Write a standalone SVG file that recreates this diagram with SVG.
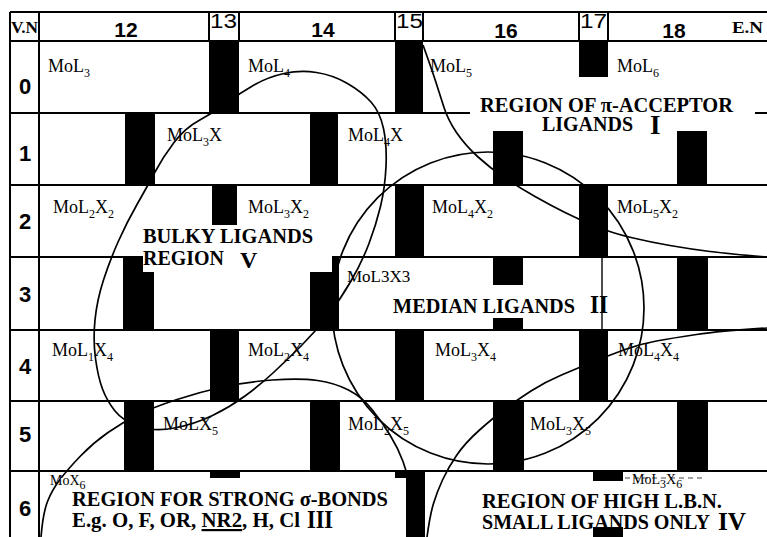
<svg xmlns="http://www.w3.org/2000/svg" width="767" height="537" viewBox="0 0 767 537">
<style>
.g{stroke:#000;stroke-width:2;fill:none}
.c{stroke:#000;stroke-width:1.7;fill:none}
.b rect{fill:#000}
.w rect{fill:#fff}
.lab{font-family:"Liberation Serif","Times New Roman",serif;font-size:18px;fill:#000}
.l17{font-size:17px}
.l15{font-size:14px}
.s{font-size:12px}
.reg{font-family:"Liberation Serif","Times New Roman",serif;font-weight:bold;font-size:22px;fill:#000}
.hd{font-family:"Liberation Sans",Arial,sans-serif;font-weight:bold;font-size:21px;fill:#000;text-anchor:middle}
.hn{font-family:"Liberation Sans",Arial,sans-serif;font-size:20px;fill:#000}
.rw{font-family:"Liberation Sans",Arial,sans-serif;font-weight:bold;font-size:22px;fill:#000;text-anchor:middle}
.vn{font-family:"Liberation Serif","Times New Roman",serif;font-weight:bold;font-size:16px;fill:#000}
</style>
<rect x="0" y="0" width="767" height="537" fill="#fff"/>
<g id="grid">
<path class="g" d="M10,12H767 M10,41H767 M10,113H767 M10,185H767 M10,257H767 M10,330H767 M10,401H767 M10,471H767 M10,12V537 M39,12V537 M209,12V41 M239,12V41 M395,12V41 M423,12V41 M579,12V41 M608,12V41"/>
</g>
<g id="bars" class="b">
<rect x="209" y="41" width="30" height="72"/><rect x="395" y="41" width="28" height="72"/><rect x="579" y="41" width="29" height="36"/>
<rect x="125" y="113" width="30" height="72"/><rect x="310" y="113" width="28" height="72"/><rect x="493" y="113" width="30" height="72"/><rect x="677" y="113" width="30" height="72"/>
<rect x="212" y="185" width="25" height="72"/><rect x="395" y="185" width="29" height="72"/><rect x="579" y="185" width="29" height="72"/>
<rect x="123" y="257" width="31" height="73"/><rect x="310" y="257" width="29" height="73"/><rect x="493" y="257" width="30" height="73"/><rect x="677" y="257" width="31" height="73"/>
<rect x="210" y="330" width="29" height="71"/><rect x="395" y="330" width="29" height="71"/><rect x="579" y="330" width="29" height="71"/>
<rect x="124" y="401" width="30" height="70"/><rect x="310" y="401" width="30" height="70"/><rect x="493" y="401" width="31" height="70"/><rect x="677" y="401" width="31" height="70"/>
<rect x="210" y="471" width="30" height="66"/><rect x="395" y="471" width="30" height="66"/><rect x="593" y="471" width="30" height="66"/>
</g>
<g id="connectors">
<path id="regionV" class="c" d="M254,85 Q268,77 284,73.5 Q300,70 316.5,72.5 Q333,75 347.5,83.5 Q362,92 371,102 Q380,112 383.5,128.5 Q387,145 386,166.5 Q385,188 380.5,206.5 Q376,225 369,243.5 Q362,262 351,281 Q340,300 327.5,316 Q315,332 301,346 Q287,360 273.5,372.5 Q260,385 245,396 Q230,407 212.5,415.5 Q195,424 174.5,428 Q154,432 138.5,426.5 Q123,421 115,411 Q107,401 102.5,389 Q98,377 95.5,358.5 Q93,340 95,320 Q97,300 103.5,280 Q110,260 118.5,241 Q127,222 137,204.5 Q147,187 155,172 Q163,157 174,142.5 Q185,128 199,120.5 Q213,113 226.5,103 Q240,93 254,85 Z"/>
<circle id="regionII" class="c" cx="488" cy="308" r="156"/>
<path id="regionIII" class="c" d="M41,537 Q43,513 47.5,501.5 Q52,490 60,479.5 Q68,469 80.5,456 Q93,443 108,432.5 Q123,422 138.5,414.5 Q154,407 177,399.5 Q200,392 222.5,387 Q245,382 272.5,380 Q300,378 317.5,380.5 Q335,383 348.5,390 Q362,397 372,409.5 Q382,422 390,435 Q398,448 403,461.5 Q408,475 411,490 Q414,505 417,537"/>
<path id="regionI" class="c" d="M423,45 Q432,70 436,82.5 Q440,95 444,107.5 Q448,120 456.5,132.5 Q465,145 477.5,156.5 Q490,168 505,178 Q520,188 535,196.5 Q550,205 565,212.5 Q580,220 596,226.5 Q612,233 631,237.5 Q650,242 670,245.5 Q690,249 710,251.5 Q730,254 767,257"/>
<path id="regionIV" class="c" d="M767,328 Q720,331 696.5,334.5 Q673,338 656.5,341 Q640,344 625,349.5 Q610,355 594,361.5 Q578,368 561.5,375 Q545,382 531,391 Q517,400 505,409 Q493,418 479,430.5 Q465,443 456.5,455.5 Q448,468 442.5,480 Q437,492 433.5,503.5 Q430,515 427,537"/>
</g>
<g id="masks" class="w">
<rect x="470" y="93" width="285" height="38"/>
<rect x="143" y="225" width="189" height="47"/>
<rect x="388" y="285" width="213" height="33"/>
<rect x="60" y="478" width="346" height="59"/>
<rect x="470" y="481" width="290" height="46"/>
</g>
<path d="M602,257V330" stroke="#000" stroke-width="1.4"/>
<path d="M625,478H705" stroke="#444" stroke-width="1" stroke-dasharray="5,4"/>
<g id="header">
<text class="vn" x="11" y="33" textLength="27" lengthAdjust="spacingAndGlyphs">V.N</text>
<text class="hd" x="126" y="37">12</text>
<text class="hn" x="210" y="28" textLength="27" lengthAdjust="spacingAndGlyphs">13</text>
<text class="hd" x="323" y="37">14</text>
<text class="hn" x="396" y="28" textLength="27" lengthAdjust="spacingAndGlyphs">15</text>
<text class="hd" x="506" y="38">16</text>
<text class="hn" x="580" y="28" textLength="27" lengthAdjust="spacingAndGlyphs">17</text>
<text class="hd" x="674" y="38">18</text>
<text class="vn" x="732" y="33" textLength="31" lengthAdjust="spacingAndGlyphs">E.N</text>
</g>
<g id="rows">
<text class="rw" x="25" y="94">0</text>
<text class="rw" x="25" y="161">1</text>
<text class="rw" x="25" y="229">2</text>
<text class="rw" x="25" y="302">3</text>
<text class="rw" x="25" y="374">4</text>
<text class="rw" x="25" y="442">5</text>
<text class="rw" x="25" y="516">6</text>
</g>
<g id="labels" class="lab">
<text x="48" y="72">MoL<tspan class="s" dy="5">3</tspan></text>
<text x="248" y="72">MoL<tspan class="s" dy="5">4</tspan></text>
<text x="430" y="72">MoL<tspan class="s" dy="5">5</tspan></text>
<text x="617" y="72">MoL<tspan class="s" dy="5">6</tspan></text>
<text x="167" y="141">MoL<tspan class="s" dy="5">3</tspan><tspan dy="-5">X</tspan></text>
<text x="348" y="141">MoL<tspan class="s" dy="5">4</tspan><tspan dy="-5">X</tspan></text>
<text x="53" y="213">MoL<tspan class="s" dy="5">2</tspan><tspan dy="-5">X</tspan><tspan class="s" dy="5">2</tspan></text>
<text x="248" y="213">MoL<tspan class="s" dy="5">3</tspan><tspan dy="-5">X</tspan><tspan class="s" dy="5">2</tspan></text>
<text x="432" y="213">MoL<tspan class="s" dy="5">4</tspan><tspan dy="-5">X</tspan><tspan class="s" dy="5">2</tspan></text>
<text x="617" y="213">MoL<tspan class="s" dy="5">5</tspan><tspan dy="-5">X</tspan><tspan class="s" dy="5">2</tspan></text>
<text class="l17" x="347" y="282">MoL3X3</text>
<text x="52" y="356">MoL<tspan class="s" dy="5">1</tspan><tspan dy="-5">X</tspan><tspan class="s" dy="5">4</tspan></text>
<text x="248" y="356">MoL<tspan class="s" dy="5">2</tspan><tspan dy="-5">X</tspan><tspan class="s" dy="5">4</tspan></text>
<text x="435" y="356">MoL<tspan class="s" dy="5">3</tspan><tspan dy="-5">X</tspan><tspan class="s" dy="5">4</tspan></text>
<text x="618" y="356">MoL<tspan class="s" dy="5">4</tspan><tspan dy="-5">X</tspan><tspan class="s" dy="5">4</tspan></text>
<text x="163" y="430">MoLX<tspan class="s" dy="5">5</tspan></text>
<text x="348" y="430">MoL<tspan class="s" dy="5">2</tspan><tspan dy="-5">X</tspan><tspan class="s" dy="5">5</tspan></text>
<text x="530" y="430">MoL<tspan class="s" dy="5">3</tspan><tspan dy="-5">X</tspan><tspan class="s" dy="5">5</tspan></text>
<text class="l15" x="50" y="485">MoX<tspan class="s" dy="4">6</tspan></text>
<text class="l15" x="632" y="484">MoL<tspan class="s" dy="4">3</tspan><tspan dy="-4">X</tspan><tspan class="s" dy="4">6</tspan></text>
</g>
<g id="regions">
<text class="reg" x="480" y="112" textLength="253" lengthAdjust="spacingAndGlyphs">REGION OF π-ACCEPTOR</text>
<text class="reg" x="542" y="131" textLength="91" lengthAdjust="spacingAndGlyphs">LIGANDS</text>
<text class="reg" x="650" y="134" style="font-size:27px">I</text>
<text class="reg" x="143" y="243" textLength="170" lengthAdjust="spacingAndGlyphs">BULKY LIGANDS</text>
<text class="reg" x="143" y="265" textLength="81" lengthAdjust="spacingAndGlyphs">REGION</text>
<text class="reg" x="240" y="268" style="font-size:24px">V</text>
<text class="reg" x="393" y="313" textLength="182" lengthAdjust="spacingAndGlyphs">MEDIAN LIGANDS</text>
<text class="reg" x="590" y="313" style="font-size:25px" textLength="18" lengthAdjust="spacingAndGlyphs">II</text>
<text class="reg" x="72" y="506" textLength="316" lengthAdjust="spacingAndGlyphs">REGION FOR STRONG σ-BONDS</text>
<text class="reg" x="72" y="527" textLength="228" lengthAdjust="spacingAndGlyphs">E.g. O, F, OR, <tspan text-decoration="underline">NR2</tspan>, H, Cl</text>
<text class="reg" x="307" y="528" style="font-size:25px" textLength="26" lengthAdjust="spacingAndGlyphs">III</text>
<text class="reg" x="482" y="508" textLength="240" lengthAdjust="spacingAndGlyphs">REGION OF HIGH L.B.N.</text>
<text class="reg" x="482" y="529" textLength="228" lengthAdjust="spacingAndGlyphs">SMALL LIGANDS ONLY</text>
<text class="reg" x="718" y="530" style="font-size:25px" textLength="28" lengthAdjust="spacingAndGlyphs">IV</text>
</g>
</svg>
